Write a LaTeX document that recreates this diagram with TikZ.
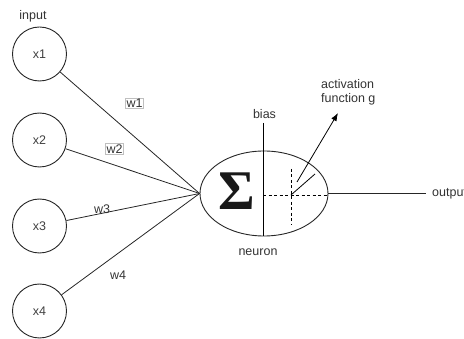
\documentclass[tikz,border=0pt]{standalone}
\usepackage{fontspec}
\setmainfont{Liberation Sans}
\newfontfamily\sigmafont{Liberation Serif}
\usetikzlibrary{shapes.geometric,arrows.meta}
\begin{document}
\begin{tikzpicture}[x=1pt,y=-1pt,
  txt/.style={font=\fontsize{12.5}{14}\selectfont, text=black!80, inner sep=0pt},
  inp/.style={circle, draw=black!85, line width=0.9pt, minimum size=54pt, inner sep=0pt, font=\fontsize{12.5}{14}\selectfont, text=black!75},
  wbox/.style={txt, draw=black!25, line width=0.6pt, inner sep=1pt, fill=white},
  conn/.style={draw=black!85, line width=0.8pt},
  dsh/.style={draw=black, line width=0.8pt, dash pattern=on 3pt off 2.5pt}
]
\useasboundingbox (0,0) rectangle (464,339);
\node[txt] (inlab) at (33,16) {input};
\node[inp] (x1) at (39.5,54) {x1};
\node[inp] (x2) at (39.5,140) {x2};
\node[inp] (x3) at (39.5,226) {x3};
\node[inp] (x4) at (39.5,311) {x4};
\node[ellipse, draw=black!85, line width=0.9pt, minimum width=128pt, minimum height=85pt, inner sep=0pt] (neuron) at (264,193.5) {};
\foreach \i in {1,2,3,4} \draw[conn] (x\i) -- (neuron.west);
\node[wbox] (w1) at (134.5,103.5) {w1};
\node[wbox] (w2) at (114.5,149) {w2};
\node[txt] (w3) at (102,209) {w3};
\node[txt] (w4) at (118,275) {w4};
\node[inner sep=0pt, text=black!90] (sigma) at (236.5,191.5) {\fontsize{56}{56}\selectfont\sigmafont\bfseries Σ};
\coordinate (btop) at (263,123);
\coordinate (bbot) at (263,236);
\draw[conn, draw=black] (btop) -- (bbot);
\node[txt] (bias) at (264.5,114) {bias};
\node[txt] (nlab) at (258,252) {neuron};
\coordinate (hs) at (263,195);
\coordinate (he) at (328,195);
\coordinate (vt) at (291,169);
\coordinate (vb) at (291,225);
\coordinate (org) at (291,195);
\coordinate (gend) at (315,174);
\draw[dsh] (hs) -- (he);
\draw[dsh] (vt) -- (vb);
\draw[conn, draw=black] (org) -- (gend);
\coordinate (as) at (297,182);
\coordinate (ae) at (338,113);
\draw[conn, draw=black, -{Latex[length=8pt,width=6pt]}] (as) -- (ae);
\node[txt, anchor=west, align=left] (act) at (321,92) {activation\\function g};
\coordinate (oe) at (426,193.5);
\draw[conn] (neuron.east) -- (oe);
\node[txt, anchor=west] (out) at (432,194) {output};
\end{tikzpicture}
\end{document}
